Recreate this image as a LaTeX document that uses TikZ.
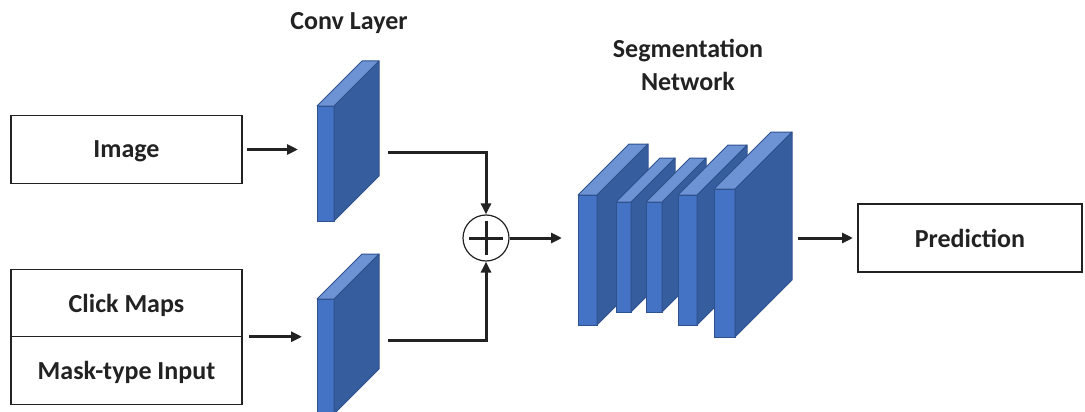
\documentclass[tikz,border=0pt]{standalone}
\usepackage{fontspec}
\setmainfont{Carlito}
\usetikzlibrary{arrows.meta, calc, positioning}
\definecolor{blueface}{HTML}{4472C4}
\definecolor{blueside}{HTML}{365D9D}
\definecolor{bluetop}{HTML}{6D93D4}
\definecolor{blueedge}{HTML}{2F528F}
\definecolor{inkgray}{HTML}{222222}

\tikzset{
  box/.style={draw=inkgray, line width=1.3pt, inner sep=0pt, outer sep=0pt, minimum width=231pt, minimum height=67.5pt,
    text depth=0pt, font=\fontsize{26}{30}\selectfont\bfseries, text=inkgray},
  heading/.style={font=\fontsize{26}{33}\selectfont\bfseries, text=inkgray, align=center},
  slab/.style={fill=blueface, draw=blueedge, line width=1pt, inner sep=0pt, outer sep=0pt},
  slabside/.style={fill=blueside, draw=blueedge, line width=1pt, line join=round},
  slabtop/.style={fill=bluetop, draw=blueedge, line width=1pt, line join=round},
  arrow/.style={draw=inkgray, line width=3pt, -{Triangle[length=11pt,width=10pt]}},
}

% name, x, y, width, height, depth
\newcommand{\convslab}[6]{%
  \node (#1) [slab, minimum width=#4pt, minimum height=#5pt] at (#2,#3) {};
  \filldraw[slabside] (#1.north east) -- ++(#6,-#6) -- ($(#1.south east)+(#6,-#6)$) -- (#1.south east) -- cycle;
  \filldraw[slabtop] (#1.north west) -- ++(#6,-#6) -- ($(#1.north east)+(#6,-#6)$) -- (#1.north east) -- cycle;
}

\begin{document}
\begin{tikzpicture}[x=1pt, y=-1pt]
  \useasboundingbox (0,0) rectangle (1085,412);

  %----------------------------------------------------------------
  \node (image) [box] at (126.5,149.5) {Image};
  \node (clicks) [box] at (126.5,303) {Click Maps};
  \node (mask) [box, below=0pt of clicks] {Mask-type Input};

  %----------------------------------------------------------------
  \node (convlabel) [heading] at (349,23) {Conv Layer};
  \convslab{conv1}{325.5}{163.5}{17}{115}{45}
  \convslab{conv2}{325.5}{356.5}{17}{115}{45}

  \node (plus) [circle, draw=inkgray, line width=1.2pt, minimum size=46pt, inner sep=0pt,
    path picture={
      \draw[inkgray, line width=3pt] ([xshift=-17pt]path picture bounding box.center) -- ([xshift=17pt]path picture bounding box.center);
      \draw[inkgray, line width=3pt] ([yshift=-17pt]path picture bounding box.center) -- ([yshift=17pt]path picture bounding box.center);
    }] at (486,238) {};

  %----------------------------------------------------------------
  \node (seglabel) [heading] at (688,65) {Segmentation\\Network};
  \convslab{seg1}{587.5}{260}{19}{130}{51}
  \convslab{seg2}{623.5}{257}{15}{110}{44}
  \convslab{seg3}{654}{257}{16}{110}{44}
  \convslab{seg4}{687.5}{260}{19}{130}{50}
  \convslab{seg5}{724.5}{263}{21}{148}{57}
  \coordinate (segin) at (562,238);
  \coordinate (segout) at (798,238);

  \node (pred) [box, minimum width=224pt, minimum height=68pt] at (970,238) {Prediction};

  %----------------------------------------------------------------
  \draw[arrow, shorten <=5pt, shorten >=19pt] (image.east) -- (image.east -| conv1.west);
  \draw[arrow, shorten <=7pt, shorten >=15pt] (clicks.south east) -- (clicks.south east -| conv2.west);
  \draw[arrow] ([xshift=54pt,yshift=11.5pt]conv1.east) -| (plus.north);
  \draw[arrow] ([xshift=54pt,yshift=16.5pt]conv2.east) -| (plus.south);
  \draw[arrow] (plus.east) -- (segin);
  \draw[arrow, shorten >=5pt] (segout) -- (pred.west);

\end{tikzpicture}
\end{document}
